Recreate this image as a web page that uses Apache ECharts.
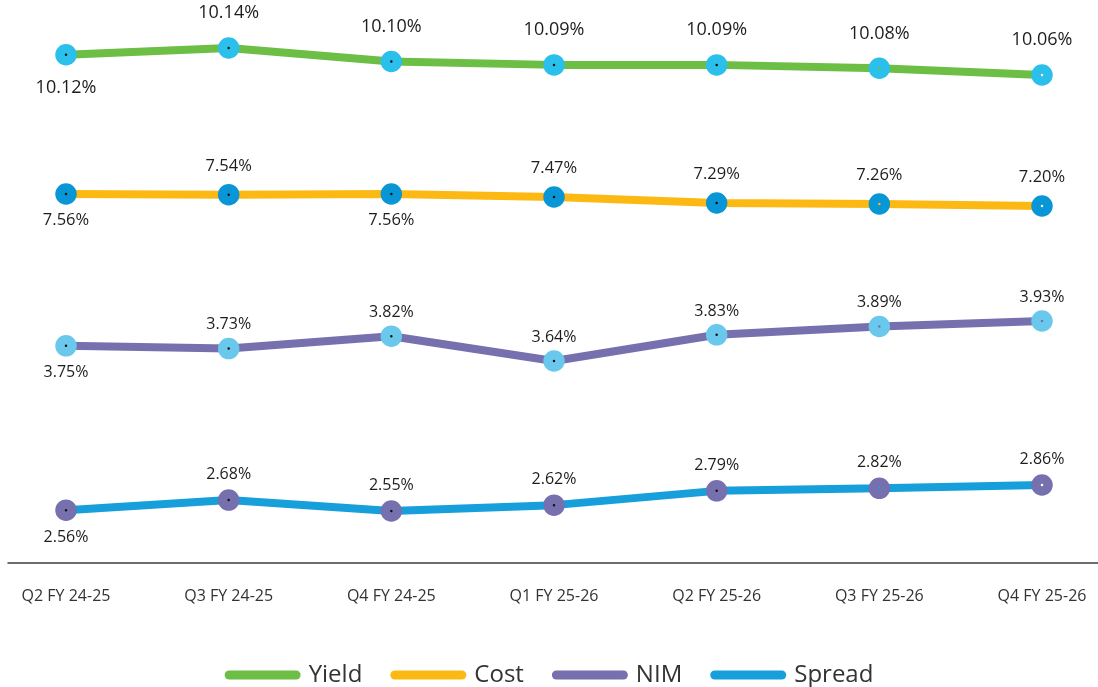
<!DOCTYPE html>
<html style="height: 100%">
<head>
	<meta charset="utf-8">
	<script src="https://cdn.jsdelivr.net/npm/echarts@6/dist/echarts.min.js"></script>
</head>
<body style="height: 100%; margin: 0; background: #fff">
	<div id="container" style="width: 1098px; height: 687px"></div>
	<script type="text/javascript">
		let dom = document.getElementById("container");
		let myChart = echarts.init(dom);

		// quarters on the x axis
		let categories = ['Q2 FY 24-25', 'Q3 FY 24-25', 'Q4 FY 24-25', 'Q1 FY 25-26', 'Q2 FY 25-26', 'Q3 FY 25-26', 'Q4 FY 25-26'];
		// values in %
		let yieldValues = [10.12, 10.14, 10.10, 10.09, 10.09, 10.08, 10.06];
		let costValues = [7.56, 7.54, 7.56, 7.47, 7.29, 7.26, 7.20];
		let nimValues = [3.75, 3.73, 3.82, 3.64, 3.83, 3.89, 3.93];
		let spreadValues = [2.56, 2.68, 2.55, 2.62, 2.79, 2.82, 2.86];

		let font = '"Open Sans", "Noto Sans", sans-serif';
		let textColor = '#1f1c1d';

		// each series sits in its own band (grid)
		function makeSeries(name, values, idx, lineColor, ringColor, dotColors, labelPos, fontSize, distTop, distBottom) {
			let data = [];
			for (let i in values) {
				data.push({
					value: values[i],
					itemStyle: { color: dotColors[i] },
					label: {
						position: labelPos[i],
						distance: labelPos[i] === 'top' ? distTop : distBottom
					}
				});
			}
			return {
				name: name,
				type: 'line',
				xAxisIndex: idx,
				yAxisIndex: idx,
				clip: false,
				z: 10 - idx,
				symbol: 'circle',
				symbolSize: 12,
				lineStyle: { color: lineColor, width: 8 },
				itemStyle: { borderColor: ringColor, borderWidth: 9.5 },
				label: {
					show: true,
					formatter: function (p) { return p.value.toFixed(2) + '%'; },
					fontFamily: font,
					fontSize: fontSize,
					color: textColor
				},
				emphasis: { disabled: true },
				data: data
			};
		}

		let bands = [
			{ top: 48, height: 27, min: 10.06, max: 10.14 },
			{ top: 194, height: 12, min: 7.20, max: 7.56 },
			{ top: 321, height: 40, min: 3.64, max: 3.93 },
			{ top: 485, height: 26, min: 2.55, max: 2.86 }
		];

		let grids = [];
		let xAxes = [];
		let yAxes = [];
		for (let b of bands) {
			grids.push({ left: 66, right: 56, top: b.top, height: b.height });
			xAxes.push({ type: 'category', gridIndex: grids.length - 1, boundaryGap: false, data: categories, show: false });
			yAxes.push({ type: 'value', gridIndex: grids.length - 1, min: b.min, max: b.max, show: false });
		}
		// category labels
		grids.push({ left: 66, right: 56, top: 562, height: 1 });
		xAxes.push({
			type: 'category', gridIndex: 4, boundaryGap: false, data: categories,
			axisLine: { show: false }, axisTick: { show: false },
			axisLabel: { margin: 25, fontFamily: font, fontSize: 16, color: '#333', interval: 0 }
		});
		yAxes.push({ type: 'value', gridIndex: 4, show: false });
		// long baseline
		grids.push({ left: 8, right: 0, top: 562, height: 1 });
		xAxes.push({
			type: 'category', gridIndex: 5, data: categories,
			axisLine: { show: true, lineStyle: { color: '#3d3d3d', width: 1.5 } },
			axisTick: { show: false }, axisLabel: { show: false }
		});
		yAxes.push({ type: 'value', gridIndex: 5, show: false });

		let legendIcon = 'path://M4.5,0 H71.5 A4.5,4.5 0 0 1 71.5,9 H4.5 A4.5,4.5 0 0 1 4.5,0 Z';

		let option = {
			animation: false,
			grid: grids,
			xAxis: xAxes,
			yAxis: yAxes,
			legend: {
				left: 'center',
				top: 658,
				itemWidth: 76,
				itemHeight: 9,
				itemGap: 28,
				textStyle: { fontFamily: font, fontSize: 24, color: '#333', padding: [0, 0, 0, 3] },
				data: [
					{ name: 'Yield', icon: legendIcon, itemStyle: { color: '#6dbe45', borderWidth: 0 } },
					{ name: 'Cost', icon: legendIcon, itemStyle: { color: '#fdb913', borderWidth: 0 } },
					{ name: 'NIM', icon: legendIcon, itemStyle: { color: '#7670ae', borderWidth: 0 } },
					{ name: 'Spread', icon: legendIcon, itemStyle: { color: '#179fdb', borderWidth: 0 } }
				]
			},
			series: [
				makeSeries('Yield', yieldValues, 0, '#6dbe45', '#2bbfec',
					['#111', '#111', '#111', '#111', '#111', '#6dbe45', '#fff'],
					['bottom', 'top', 'top', 'top', 'top', 'top', 'top'], 18, 15, 13),
				makeSeries('Cost', costValues, 1, '#fdb913', '#0896d6',
					['#111', '#111', '#111', '#111', '#111', '#fdb913', '#fff'],
					['bottom', 'top', 'bottom', 'top', 'top', 'top', 'top'], 16.5, 9, 7),
				makeSeries('NIM', nimValues, 2, '#7670ae', '#69c8ec',
					['#111', '#111', '#111', '#111', '#111', '#7670ae', '#7670ae'],
					['bottom', 'top', 'top', 'top', 'top', 'top', 'top'], 16, 5, 8),
				makeSeries('Spread', spreadValues, 3, '#179fdb', '#7670ae',
					['#111', '#111', '#111', '#111', '#111', '#179fdb', '#fff'],
					['bottom', 'top', 'top', 'top', 'top', 'top', 'top'], 16, 7, 9)
			]
		};

		myChart.setOption(option);
	</script>
</body>
</html>
